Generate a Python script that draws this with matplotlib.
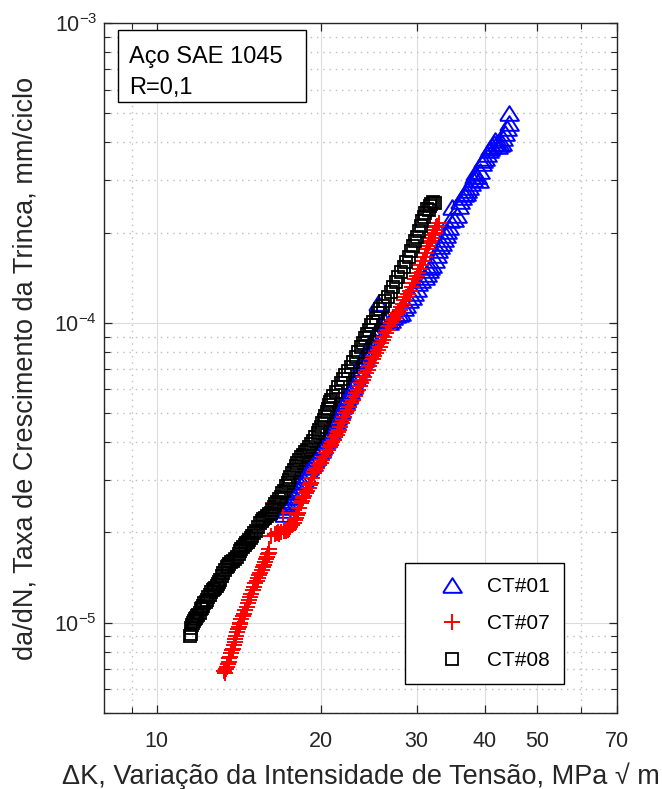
import matplotlib
matplotlib.use("Agg")
import matplotlib.pyplot as plt
from matplotlib.ticker import NullFormatter, FixedLocator
from matplotlib.patches import Rectangle

plt.rcParams['font.family'] = ['Liberation Sans', 'DejaVu Sans']
plt.rcParams['mathtext.fontset'] = 'custom'
plt.rcParams['mathtext.rm'] = 'Liberation Sans'

# CT#01 (blue triangles)
dk_01 = [17.10, 17.24, 17.35, 17.45, 17.53, 17.62, 17.76, 17.90, 18.02, 18.15,
         18.28, 18.40, 18.50, 18.61, 18.78, 18.94, 19.07, 19.20, 19.32, 19.43,
         19.56, 19.70, 19.85, 20.00, 20.10, 20.20, 20.32, 20.44, 20.55, 20.65,
         20.76, 20.88, 21.00, 21.10, 21.22, 21.33, 21.44, 21.55, 21.67, 21.79,
         21.93, 22.07, 22.18, 22.30, 22.42, 22.54, 22.67, 22.80, 22.92, 23.03,
         23.23, 23.43, 23.58, 23.73, 23.86, 24.00, 24.12, 24.24, 24.37, 24.50,
         24.63, 24.76, 24.88, 25.00, 25.15, 25.29, 25.50, 25.60, 25.84, 26.10,
         26.40, 26.70, 26.96, 27.20, 27.54, 27.85, 28.14, 28.45, 28.74, 29.05,
         29.36, 29.73, 30.00, 30.24, 30.60, 31.02, 31.30, 31.55, 31.80, 32.00,
         32.37, 32.65, 32.90, 33.15, 33.36, 33.65, 33.90, 34.15, 34.36, 34.60,
         34.80, 35.20, 35.54, 35.90, 36.10, 36.31, 36.60, 36.90, 37.15, 37.41,
         37.70, 38.00, 38.20, 38.38, 38.70, 39.04, 39.30, 39.54, 39.80, 40.10,
         40.40, 40.74, 41.00, 41.30, 41.55, 41.80, 42.10, 42.40, 42.70, 43.05,
         43.30, 43.61, 44.00, 44.36, 44.36]
da_01 = [2.30e-5, 2.38e-5, 2.43e-5, 2.48e-5, 2.52e-5, 2.57e-5, 2.62e-5, 2.67e-5, 2.72e-5, 2.77e-5,
         2.82e-5, 2.88e-5, 2.94e-5, 3.00e-5, 3.12e-5, 3.24e-5, 3.30e-5, 3.36e-5, 3.42e-5, 3.49e-5,
         3.55e-5, 3.62e-5, 3.70e-5, 3.77e-5, 3.85e-5, 3.92e-5, 4.00e-5, 4.07e-5, 4.15e-5, 4.22e-5,
         4.31e-5, 4.40e-5, 4.49e-5, 4.58e-5, 4.66e-5, 4.75e-5, 4.85e-5, 4.95e-5, 5.04e-5, 5.13e-5,
         5.27e-5, 5.41e-5, 5.50e-5, 5.60e-5, 5.72e-5, 5.84e-5, 5.94e-5, 6.05e-5, 6.18e-5, 6.31e-5,
         6.56e-5, 6.81e-5, 7.08e-5, 7.36e-5, 7.48e-5, 7.60e-5, 7.77e-5, 7.94e-5, 8.10e-5, 8.25e-5,
         8.41e-5, 8.58e-5, 8.74e-5, 8.90e-5, 9.08e-5, 9.26e-5, 1.166e-4, 9.60e-5, 1.00e-4, 1.02e-4,
         1.039e-4, 1.01e-4, 1.023e-4, 1.05e-4, 1.063e-4, 1.07e-4, 1.08e-4, 1.12e-4, 1.148e-4, 1.19e-4,
         1.221e-4, 1.259e-4, 1.30e-4, 1.36e-4, 1.39e-4, 1.423e-4, 1.46e-4, 1.502e-4, 1.53e-4, 1.56e-4,
         1.622e-4, 1.69e-4, 1.75e-4, 1.80e-4, 1.848e-4, 1.91e-4, 1.97e-4, 2.03e-4, 2.089e-4, 2.20e-4,
         2.436e-4, 2.22e-4, 2.29e-4, 2.45e-4, 2.55e-4, 2.63e-4, 2.68e-4, 2.72e-4, 2.78e-4, 2.84e-4,
         2.93e-4, 3.02e-4, 3.09e-4, 3.16e-4, 3.08e-4, 3.00e-4, 3.22e-4, 3.41e-4, 3.48e-4, 3.55e-4,
         3.66e-4, 3.77e-4, 3.83e-4, 3.88e-4, 3.97e-4, 4.07e-4, 3.98e-4, 3.90e-4, 3.94e-4, 3.98e-4,
         4.14e-4, 4.30e-4, 4.46e-4, 4.64e-4, 5.01e-4]

# CT#07 (red plus)
dk_07 = [13.30, 13.36, 13.40, 13.45, 13.50, 13.55, 13.60, 13.64, 13.70, 13.75,
         13.80, 13.85, 13.90, 13.94, 14.00, 14.05, 14.10, 14.15, 14.19, 14.23,
         14.30, 14.38, 14.46, 14.54, 14.62, 14.70, 14.78, 14.85, 14.92, 15.00,
         15.10, 15.18, 15.26, 15.35, 15.42, 15.50, 15.58, 15.65, 15.74, 15.83,
         15.90, 15.95, 16.00, 16.04, 16.10, 16.18, 16.38, 16.50, 16.60, 16.70,
         16.80, 16.88, 17.02, 17.10, 17.25, 17.39, 17.50, 17.60, 17.72, 17.84,
         17.92, 18.00, 18.08, 18.15, 18.26, 18.38, 18.46, 18.55, 18.66, 18.77,
         18.88, 19.00, 19.09, 19.18, 19.30, 19.43, 19.56, 19.70, 19.85, 20.00,
         20.15, 20.30, 20.46, 20.62, 20.76, 20.90, 21.02, 21.15, 21.28, 21.40,
         21.50, 21.61, 21.73, 21.85, 21.96, 22.07, 22.24, 22.40, 22.57, 22.74,
         22.92, 23.10, 23.26, 23.43, 23.60, 23.75, 23.89, 24.03, 24.22, 24.40,
         24.58, 24.76, 24.93, 25.10, 25.30, 25.50, 25.68, 25.85, 26.00, 26.17,
         26.36, 26.55, 26.75, 26.96, 27.15, 27.35, 27.55, 27.77, 27.93, 28.10,
         28.30, 28.50, 28.70, 28.90, 29.12, 29.36, 29.58, 29.80, 30.00, 30.24,
         30.42, 30.60, 30.80, 31.02, 31.15, 31.30, 31.42, 31.55, 31.78, 32.00,
         32.18, 32.37, 32.48, 32.60, 32.75, 32.93]
da_07 = [6.9e-6, 6.8e-6, 7.0e-6, 7.1e-6, 7.3e-6, 7.4e-6, 7.6e-6, 7.7e-6, 7.9e-6, 8.1e-6,
         8.2e-6, 8.4e-6, 8.6e-6, 8.8e-6, 9.0e-6, 9.3e-6, 9.5e-6, 9.7e-6, 9.9e-6, 1.00e-5,
         1.03e-5, 1.05e-5, 1.07e-5, 1.10e-5, 1.13e-5, 1.16e-5, 1.19e-5, 1.22e-5, 1.25e-5, 1.29e-5,
         1.32e-5, 1.36e-5, 1.38e-5, 1.41e-5, 1.44e-5, 1.47e-5, 1.50e-5, 1.53e-5, 1.56e-5, 1.59e-5,
         1.63e-5, 1.66e-5, 1.69e-5, 1.71e-5, 1.76e-5, 1.94e-5, 2.51e-5, 1.97e-5, 1.99e-5, 2.00e-5,
         1.98e-5, 2.00e-5, 2.33e-5, 2.02e-5, 2.03e-5, 2.04e-5, 2.06e-5, 2.08e-5, 2.11e-5, 2.15e-5,
         2.20e-5, 2.24e-5, 2.28e-5, 2.33e-5, 2.42e-5, 2.51e-5, 2.55e-5, 2.60e-5, 2.65e-5, 2.71e-5,
         2.76e-5, 2.82e-5, 2.87e-5, 2.93e-5, 3.05e-5, 3.16e-5, 3.22e-5, 3.28e-5, 3.35e-5, 3.41e-5,
         3.50e-5, 3.58e-5, 3.67e-5, 3.77e-5, 3.85e-5, 3.92e-5, 4.00e-5, 4.07e-5, 4.15e-5, 4.22e-5,
         4.31e-5, 4.40e-5, 4.51e-5, 4.62e-5, 4.74e-5, 4.86e-5, 4.99e-5, 5.12e-5, 5.26e-5, 5.41e-5,
         5.55e-5, 5.70e-5, 5.84e-5, 5.98e-5, 6.14e-5, 6.30e-5, 6.45e-5, 6.61e-5, 6.80e-5, 6.98e-5,
         7.17e-5, 7.36e-5, 7.55e-5, 7.75e-5, 7.94e-5, 8.13e-5, 8.34e-5, 8.55e-5, 8.76e-5, 8.98e-5,
         9.24e-5, 9.50e-5, 9.75e-5, 1.00e-4, 1.02e-4, 1.04e-4, 1.06e-4, 1.08e-4, 1.10e-4, 1.13e-4,
         1.16e-4, 1.19e-4, 1.22e-4, 1.25e-4, 1.28e-4, 1.32e-4, 1.36e-4, 1.40e-4, 1.43e-4, 1.47e-4,
         1.51e-4, 1.56e-4, 1.61e-4, 1.66e-4, 1.71e-4, 1.76e-4, 1.80e-4, 1.85e-4, 1.88e-4, 1.92e-4,
         1.96e-4, 2.00e-4, 2.04e-4, 2.08e-4, 2.11e-4, 2.15e-4]

# CT#08 (black squares)
dk_08 = [11.52, 11.56, 11.58, 11.62, 11.66, 11.70, 11.75, 11.80, 11.85, 11.92,
         12.01, 12.05, 12.10, 12.16, 12.22, 12.30, 12.37, 12.44, 12.50, 12.60,
         12.69, 12.75, 12.80, 12.88, 12.95, 13.02, 13.08, 13.16, 13.25, 13.36,
         13.47, 13.54, 13.60, 13.70, 13.80, 13.92, 14.06, 14.14, 14.20, 14.30,
         14.42, 14.50, 14.60, 14.70, 14.80, 14.90, 14.98, 15.10, 15.20, 15.35,
         15.50, 15.60, 15.70, 15.82, 15.95, 16.06, 16.18, 16.30, 16.40, 16.52,
         16.65, 16.76, 16.88, 17.00, 17.10, 17.25, 17.39, 17.50, 17.60, 17.72,
         17.84, 17.98, 18.10, 18.25, 18.38, 18.55, 18.70, 18.85, 19.02, 19.18,
         19.35, 19.55, 19.76, 19.88, 20.00, 20.14, 20.27, 20.40, 20.50, 20.60,
         20.71, 20.80, 20.88, 21.10, 21.30, 21.55, 21.79, 22.00, 22.20, 22.46,
         22.74, 22.95, 23.20, 23.45, 23.73, 23.90, 24.10, 24.32, 24.55, 24.78,
         25.00, 25.25, 25.50, 25.75, 26.00, 26.30, 26.62, 26.90, 27.20, 27.48,
         27.77, 28.10, 28.40, 28.70, 28.99, 29.25, 29.50, 29.75, 29.99, 30.25,
         30.50, 30.70, 30.89, 31.10, 31.29, 31.55, 31.70, 31.90, 32.15, 32.37]
da_08 = [9.0e-6, 9.2e-6, 9.6e-6, 9.8e-6, 1.00e-5, 1.01e-5, 1.03e-5, 1.04e-5, 1.05e-5, 1.06e-5,
         1.08e-5, 1.11e-5, 1.12e-5, 1.14e-5, 1.16e-5, 1.17e-5, 1.19e-5, 1.22e-5, 1.24e-5, 1.27e-5,
         1.29e-5, 1.30e-5, 1.31e-5, 1.33e-5, 1.35e-5, 1.37e-5, 1.39e-5, 1.43e-5, 1.46e-5, 1.50e-5,
         1.53e-5, 1.55e-5, 1.57e-5, 1.59e-5, 1.61e-5, 1.63e-5, 1.66e-5, 1.70e-5, 1.73e-5, 1.76e-5,
         1.79e-5, 1.81e-5, 1.84e-5, 1.86e-5, 1.89e-5, 1.92e-5, 1.94e-5, 1.99e-5, 2.03e-5, 2.09e-5,
         2.15e-5, 2.18e-5, 2.21e-5, 2.24e-5, 2.27e-5, 2.30e-5, 2.33e-5, 2.38e-5, 2.43e-5, 2.48e-5,
         2.53e-5, 2.58e-5, 2.63e-5, 2.70e-5, 2.76e-5, 2.85e-5, 2.93e-5, 3.00e-5, 3.07e-5, 3.15e-5,
         3.24e-5, 3.32e-5, 3.40e-5, 3.49e-5, 3.57e-5, 3.63e-5, 3.70e-5, 3.78e-5, 3.86e-5, 3.95e-5,
         4.05e-5, 4.17e-5, 4.30e-5, 4.40e-5, 4.50e-5, 4.62e-5, 4.75e-5, 4.90e-5, 5.05e-5, 5.18e-5,
         5.33e-5, 5.44e-5, 5.54e-5, 5.72e-5, 5.90e-5, 6.10e-5, 6.31e-5, 6.50e-5, 6.70e-5, 6.90e-5,
         7.13e-5, 7.40e-5, 7.70e-5, 8.00e-5, 8.32e-5, 8.60e-5, 8.90e-5, 9.18e-5, 9.48e-5, 9.80e-5,
         1.01e-4, 1.04e-4, 1.08e-4, 1.11e-4, 1.14e-4, 1.18e-4, 1.22e-4, 1.27e-4, 1.32e-4, 1.37e-4,
         1.42e-4, 1.48e-4, 1.54e-4, 1.60e-4, 1.66e-4, 1.73e-4, 1.80e-4, 1.87e-4, 1.94e-4, 2.02e-4,
         2.10e-4, 2.18e-4, 2.26e-4, 2.33e-4, 2.40e-4, 2.38e-4, 2.46e-4, 2.50e-4, 2.52e-4, 2.51e-4]

x_ticks = [10, 20, 30, 40, 50, 70]
x_minor = [9, 60]

dark = '#262626'
tri = [(-1, -0.78), (1, -0.78), (0, 0.78), (-1, -0.78)]

fig = plt.figure(figsize=(6.62, 7.89), dpi=100)
ax = fig.add_axes([104 / 662, 1 - 713 / 789, 513 / 662, 690 / 789])
ax.set_xscale('log')
ax.set_yscale('log')

ax.plot(dk_01, da_01, linestyle='none', marker=tri, ms=13.5, mfc='none',
        mec='#0000ff', mew=1.4, label='CT#01')
ax.plot(dk_07, da_07, linestyle='none', marker='+', ms=12, mec='#ff0000',
        mew=1.4, label='CT#07')
ax.plot(dk_08, da_08, linestyle='none', marker='s', ms=8.5, mfc='none',
        mec='black', mew=1.3, label='CT#08')

ax.set_xlim(8, 70)
ax.set_ylim(5e-6, 1e-3)
ax.set_xticks(x_ticks)
ax.set_xticklabels([str(v) for v in x_ticks])
ax.xaxis.set_minor_locator(FixedLocator(x_minor))
ax.xaxis.set_minor_formatter(NullFormatter())
ax.yaxis.set_minor_formatter(NullFormatter())

ax.grid(True, which='major', color='#dcdcdc', linestyle='-', linewidth=0.8)
ax.grid(True, which='minor', color='#bdbdbd', linestyle=(0, (1, 3.5)), linewidth=1.0)
ax.set_axisbelow(True)

ax.tick_params(which='both', direction='in', top=True, right=True,
               color=dark, labelcolor=dark, labelsize=15.5)
ax.tick_params(which='major', length=6, width=0.9)
ax.tick_params(which='minor', length=4, width=0.8)
ax.tick_params(axis='x', which='major', pad=13)
ax.tick_params(axis='y', which='major', pad=5)
for s in ax.spines.values():
    s.set_color(dark)
    s.set_linewidth(1.0)

ax.set_xlabel('ΔK, Variação da Intensidade de Tensão, MPa √ m', fontsize=19.5,
              color=dark, labelpad=7.5)
ax.set_ylabel('da/dN, Taxa de Crescimento da Trinca, mm/ciclo', fontsize=19.5,
              color=dark, labelpad=11)

box = Rectangle((0.027, 0.8855), 0.367, 0.1045, transform=ax.transAxes,
                facecolor='white', edgecolor='black', linewidth=1.0, zorder=5)
ax.add_patch(box)
ax.text(0.049, 0.942, 'Aço SAE 1045', transform=ax.transAxes, fontsize=17,
        va='baseline', ha='left', zorder=6, color='black')
ax.text(0.049, 0.897, 'R=0,1', transform=ax.transAxes, fontsize=17,
        va='baseline', ha='left', zorder=6, color='black')

leg = ax.legend(loc='lower left', bbox_to_anchor=(0.587, 0.042), borderaxespad=0,
                fontsize=15, borderpad=0.67, handlelength=3.17, handletextpad=0.1,
                labelspacing=0.87, fancybox=False, framealpha=1, edgecolor='black',
                numpoints=1)
leg.get_frame().set_linewidth(1.0)

fig.savefig('out.png', dpi=100)
